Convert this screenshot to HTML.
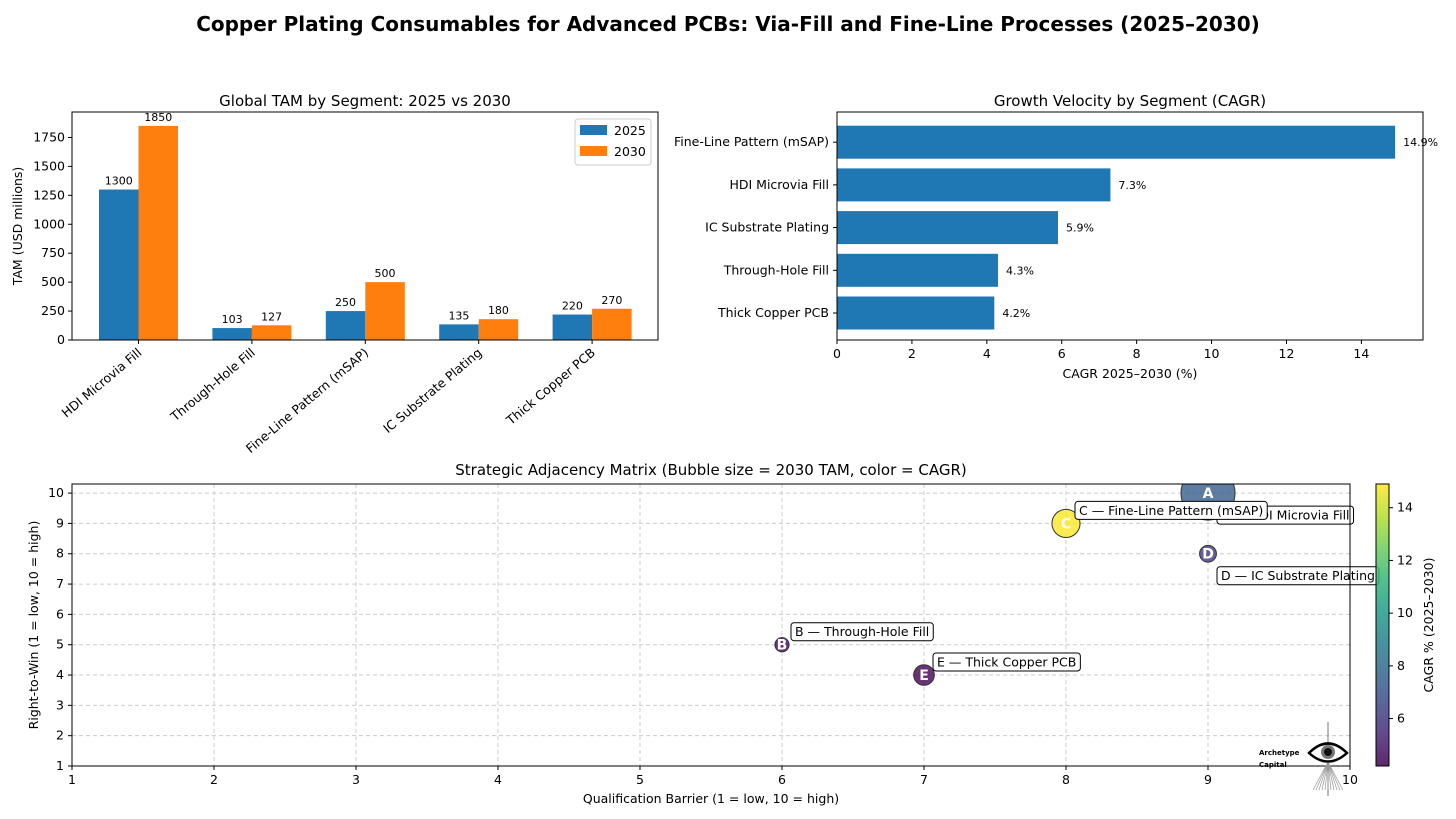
<!DOCTYPE html>
<html><head><meta charset="utf-8"><style>
body{margin:0;background:#fff;}
svg{display:block;font-family:"DejaVu Sans","Liberation Sans",sans-serif;}
</style></head><body>
<svg id="s" width="1456" height="819" viewBox="0 0 1456 819">
<text x="728" y="31" text-anchor="middle" font-size="20" font-weight="bold">Copper Plating Consumables for Advanced PCBs: Via-Fill and Fine-Line Processes (2025–2030)</text>
</svg>
<script>
const NS="http://www.w3.org/2000/svg";
const svg=document.getElementById('s');
function mk(t,a,p){const e=document.createElementNS(NS,t);for(const k in a)e.setAttribute(k,a[k]);(p||svg).appendChild(e);return e;}
function tx(x,y,s,a,p){const e=mk('text',Object.assign({x:x,y:y,'font-size':12.5},a),p);e.textContent=s;return e;}

// ---------- Data ----------
const segs=["HDI Microvia Fill","Through-Hole Fill","Fine-Line Pattern (mSAP)","IC Substrate Plating","Thick Copper PCB"];
const tam2025=[1300,103,250,135,220];
const tam2030=[1850,127,500,180,270];
const cagrSegs=["Thick Copper PCB","Through-Hole Fill","IC Substrate Plating","HDI Microvia Fill","Fine-Line Pattern (mSAP)"];
const cagrVals=[4.2,4.3,5.9,7.3,14.9];
const yTicks1=[0,250,500,750,1000,1250,1500,1750];
const xTicks2=[0,2,4,6,8,10,12,14];
const bubLetters=["A","B","C","D","E"];
const bubNames=["HDI Microvia Fill","Through-Hole Fill","Fine-Line Pattern (mSAP)","IC Substrate Plating","Thick Copper PCB"];
const bubBarrier=[9,6,8,9,7];
const bubRTW=[10,5,9,8,4];
const bubTAM=[1850,127,500,180,270];
const bubCAGR=[7.3,4.3,14.9,5.9,4.2];
const labelBelow=[true,false,false,true,false];

// ---------- Chart 1 ----------
const g1=mk('g',{});
const L1=72,R1=658,T1=112,B1=340,ymax1=1970;
const y1=v=>B1-v/ymax1*(B1-T1);
const step1=113.4;
const cx1=i=>L1+66.5+step1*i;
const bw=39.5;
tx(365,106,"Global TAM by Segment: 2025 vs 2030",{'font-size':15,'text-anchor':'middle'},g1);
yTicks1.forEach(v=>{const y=y1(v);mk('line',{x1:L1-4,x2:L1,y1:y,y2:y,stroke:'#000'},g1);
 const t=tx(L1-7,y+4,String(v),{'text-anchor':'end'},g1);});
segs.forEach((s,i)=>{
 const c=cx1(i);
 const a=mk('rect',{x:c-bw,y:y1(tam2025[i]),width:bw,height:B1-y1(tam2025[i]),fill:'#1f77b4'},g1);
 
 const b=mk('rect',{x:c,y:y1(tam2030[i]),width:bw,height:B1-y1(tam2030[i]),fill:'#ff7f0e'},g1);
 
 tx(c-bw/2,y1(tam2025[i])-5,String(tam2025[i]),{'font-size':11,'text-anchor':'middle'},g1);
 tx(c+bw/2,y1(tam2030[i])-5,String(tam2030[i]),{'font-size':11,'text-anchor':'middle'},g1);
 mk('line',{x1:c,x2:c,y1:B1,y2:B1+4,stroke:'#000'},g1);
 const t=tx(0,0,s,{'text-anchor':'end',transform:`translate(${c+4},${B1+14}) rotate(-40)`},g1);
 
});
mk('rect',{x:L1,y:T1,width:R1-L1,height:B1-T1,fill:'none',stroke:'#000'},g1);
tx(0,0,"TAM (USD millions)",{'text-anchor':'middle',transform:`translate(22,${(T1+B1)/2}) rotate(-90)`},g1);
const lg=mk('g',{},g1);
mk('rect',{x:575,y:119,width:76,height:46,rx:3,fill:'#fff',stroke:'#ccc'},lg);
mk('rect',{x:580,y:125,width:27,height:10,fill:'#1f77b4'},lg);tx(614,135,"2025",{},lg);
mk('rect',{x:580,y:146,width:27,height:10,fill:'#ff7f0e'},lg);tx(614,156,"2030",{},lg);

// ---------- Chart 2 ----------
const g2=mk('g',{});
const L2=837,R2=1423,T2=112,B2=340,xmax2=15.645;
const x2=v=>L2+v/xmax2*(R2-L2);
const step2=42.7;
const cy2=i=>B2-27-step2*i;
tx(1130,106,"Growth Velocity by Segment (CAGR)",{'font-size':15,'text-anchor':'middle'},g2);
cagrSegs.forEach((s,i)=>{
 const c=cy2(i);
 const r=mk('rect',{x:L2,y:c-16.5,width:x2(cagrVals[i])-L2,height:33,fill:'#1f77b4'},g2);
 
 tx(x2(cagrVals[i])+8,c+4,cagrVals[i].toFixed(1)+"%",{'font-size':11},g2);
 mk('line',{x1:L2-4,x2:L2,y1:c,y2:c,stroke:'#000'},g2);
 tx(L2-8,c+4,s,{'text-anchor':'end'},g2);
});
xTicks2.forEach(v=>{const x=x2(v);mk('line',{x1:x,x2:x,y1:B2,y2:B2+4,stroke:'#000'},g2);
 tx(x,B2+18,String(v),{'text-anchor':'middle'},g2);});
mk('rect',{x:L2,y:T2,width:R2-L2,height:B2-T2,fill:'none',stroke:'#000'},g2);
tx(1130,378,"CAGR 2025–2030 (%)",{'text-anchor':'middle'},g2);

// ---------- Chart 3 ----------
const g3=mk('g',{});
const L3=72,R3=1350,T3=484,B3=766;
const x3=v=>L3+(v-1)/9*(R3-L3);
const y3=v=>B3-(v-1)/9.3*(B3-T3);
tx(711,475,"Strategic Adjacency Matrix (Bubble size = 2030 TAM, color = CAGR)",{'font-size':15,'text-anchor':'middle'},g3);
for(let v=1;v<=10;v++){
 mk('line',{x1:x3(v),x2:x3(v),y1:T3,y2:B3,stroke:'#ccc','stroke-dasharray':'4,3'},g3);
 mk('line',{x1:L3,x2:R3,y1:y3(v),y2:y3(v),stroke:'#ccc','stroke-dasharray':'4,3'},g3);
 mk('line',{x1:x3(v),x2:x3(v),y1:B3,y2:B3+4,stroke:'#000'},g3);
 tx(x3(v),B3+18,String(v),{'text-anchor':'middle'},g3);
 mk('line',{x1:L3-4,x2:L3,y1:y3(v),y2:y3(v),stroke:'#000'},g3);
 tx(L3-8,y3(v)+4,String(v),{'text-anchor':'end'},g3);
}
const vir=[[68,1,84],[72,40,120],[62,74,137],[49,104,142],[38,130,142],[31,158,137],[53,183,121],[110,206,88],[181,222,43],[253,231,37]];
const cmin=4.2,cmax=14.9;
function viridis(v){let t=Math.max(0,Math.min(1,(v-cmin)/(cmax-cmin)))*(vir.length-1);const i=Math.min(vir.length-2,Math.floor(t)),f=t-i;
 const c=vir[i].map((a,k)=>Math.round(a+(vir[i+1][k]-a)*f));return `rgb(${c})`;}
const clip=mk('clipPath',{id:'cp'},g3);mk('rect',{x:L3,y:T3,width:R3-L3,height:B3-T3},clip);
const bg=mk('g',{'clip-path':'url(#cp)'},g3);
bubLetters.forEach((l,i)=>{
 const cx=x3(bubBarrier[i]),cy=y3(bubRTW[i]),r=Math.sqrt(bubTAM[i])*0.628;
 const c=mk('circle',{cx:cx,cy:cy,r:r,fill:viridis(bubCAGR[i]),'fill-opacity':0.8,stroke:'#333','stroke-width':1},bg);
 
 tx(cx,cy+5,l,{'text-anchor':'middle','font-size':14,'font-weight':'bold',fill:'#fff'},bg);
});
bubLetters.forEach((l,i)=>{
 const cx=x3(bubBarrier[i]),cy=y3(bubRTW[i]);
 const s=l+" — "+bubNames[i];
 const bx=cx+9, by=cy+(labelBelow[i]?13:-22);
 const lb=mk('g',{},g3);
 const rc=mk('rect',{x:bx,y:by,width:10,height:18,rx:3,fill:'#fff',stroke:'#000'},lb);
 const t=tx(bx+4,by+13.5,s,{},lb);
 let w=s.length*7; try{w=t.getComputedTextLength();}catch(e){}
 rc.setAttribute('width',w+8);
});
mk('rect',{x:L3,y:T3,width:R3-L3,height:B3-T3,fill:'none',stroke:'#000'},g3);
tx(711,803,"Qualification Barrier (1 = low, 10 = high)",{'text-anchor':'middle'},g3);
tx(0,0,"Right-to-Win (1 = low, 10 = high)",{'text-anchor':'middle',transform:`translate(38,${(T3+B3)/2}) rotate(-90)`},g3);
// colorbar
const cb=mk('g',{});
const gr=mk('linearGradient',{id:'vg',x1:0,y1:1,x2:0,y2:0},cb);
vir.forEach((c,k)=>mk('stop',{offset:k/(vir.length-1),'stop-color':`rgb(${c})`,'stop-opacity':0.85},gr));
mk('rect',{x:1376,y:T3,width:13,height:B3-T3,fill:'url(#vg)',stroke:'#000'},cb);
[6,8,10,12,14].forEach(v=>{const y=B3-(v-cmin)/(cmax-cmin)*(B3-T3);
 mk('line',{x1:1389,x2:1393,y1:y,y2:y,stroke:'#000'},cb);tx(1397,y+4,String(v),{},cb);});
tx(0,0,"CAGR % (2025–2030)",{'text-anchor':'middle',transform:`translate(1433,${(T3+B3)/2}) rotate(-90)`},cb);
// logo
const lo=mk('g',{});
tx(1259,755,"Archetype",{'font-size':7,'font-weight':'bold'},lo);
tx(1259,767,"Capital",{'font-size':7,'font-weight':'bold'},lo);
mk('line',{x1:1328,x2:1328,y1:722,y2:796,stroke:'#777'},lo);
for(let k=-5;k<=5;k++){mk('line',{x1:1328,y1:762,x2:1328+k*3,y2:790,stroke:'#999','stroke-width':0.7},lo);}
mk('path',{d:'M1309 753 Q1328 734 1347 753 Q1328 770 1309 753Z',fill:'#fff',stroke:'#000','stroke-width':2.5},lo);
mk('circle',{cx:1328,cy:752,r:7,fill:'#777'},lo);
mk('circle',{cx:1328,cy:752,r:4,fill:'#111'},lo);
</script>
</body></html>
